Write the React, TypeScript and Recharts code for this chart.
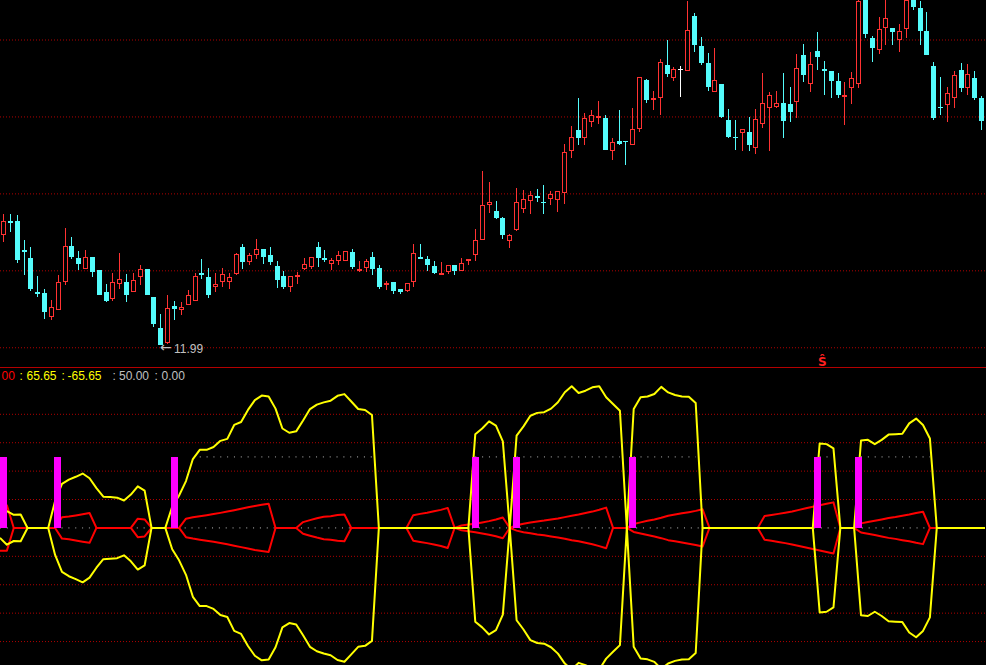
import React from 'react';
import { ComposedChart, Bar, Line, XAxis, YAxis, ReferenceLine } from 'recharts';

// ---------- price panel data ----------
const OPEN = [
  13.41, 13.60, 13.60, 13.22, 13.12, 12.67, 12.66, 12.35, 12.44, 12.81,
  13.27, 13.12, 12.97, 13.13, 12.96, 12.67, 12.59, 12.78, 12.80, 12.67,
  12.87, 12.97, 12.61, 12.21, 12.01, 12.49, 12.44, 12.51, 12.56, 12.92,
  12.87, 12.74, 12.80, 12.81, 12.91, 13.26, 13.06, 13.15, 13.23, 13.16,
  13.01, 12.88, 12.74, 12.87, 12.98, 13.00, 13.26, 13.12, 13.04, 13.08,
  13.08, 13.19, 12.95, 12.99, 13.13, 12.99, 12.76, 12.80, 12.71, 12.69,
  12.81, 13.13, 13.10, 13.01, 12.89, 12.93, 13.03, 12.95, 13.09, 13.15,
  13.35, 13.80, 13.73, 13.64, 13.34, 13.48, 13.76, 13.86, 13.92, 13.85,
  13.89, 13.87, 13.96, 14.51, 14.78, 14.67, 14.88, 14.93, 14.94, 14.51,
  14.64, 14.64, 14.59, 14.79, 15.43, 15.18, 15.19, 15.63, 15.46, 15.57,
  15.55, 16.26, 15.87, 15.65, 15.28, 15.38, 14.91, 14.69, 14.74, 14.75,
  14.54, 14.86, 15.06, 15.08, 15.13, 15.12, 15.15, 15.76, 15.38, 15.81,
  15.57, 15.55, 15.42, 15.23, 15.33, 15.38, 16.47, 15.98, 15.82, 16.10,
  16.11, 15.95, 16.09, 16.47, 16.37, 16.07, 15.61, 15.08, 15.10, 15.20,
  15.56, 15.32, 15.46, 15.20,
];
const HIGH = [
  13.69, 13.69, 13.68, 13.35, 13.26, 12.88, 12.71, 12.57, 12.90, 13.51,
  13.39, 13.21, 13.22, 13.13, 12.96, 12.78, 12.92, 13.18, 12.91, 12.92,
  13.03, 12.97, 12.61, 12.39, 12.64, 12.56, 12.54, 12.70, 12.92, 13.10,
  12.99, 12.92, 12.99, 12.92, 13.18, 13.30, 13.18, 13.36, 13.23, 13.26,
  13.08, 12.95, 12.88, 12.93, 13.12, 13.13, 13.32, 13.22, 13.12, 13.21,
  13.21, 13.23, 13.08, 13.10, 13.19, 13.03, 12.82, 12.80, 12.71, 12.79,
  13.30, 13.30, 13.14, 13.08, 13.06, 13.03, 13.03, 13.12, 13.10, 13.49,
  14.25, 14.10, 13.86, 13.65, 13.43, 14.03, 14.00, 13.99, 14.01, 14.07,
  13.99, 13.99, 14.60, 14.83, 15.20, 15.00, 15.04, 15.16, 14.97, 14.67,
  15.04, 14.64, 15.07, 15.47, 15.44, 15.29, 15.70, 15.95, 15.60, 15.61,
  16.46, 16.30, 15.99, 15.78, 15.85, 15.38, 15.05, 14.91, 14.79, 14.95,
  15.05, 15.52, 15.27, 15.29, 15.52, 15.34, 15.77, 15.90, 15.79, 16.05,
  15.68, 15.55, 15.52, 15.40, 15.53, 16.47, 16.47, 16.00, 16.25, 16.47,
  16.11, 16.16, 16.47, 16.47, 16.46, 16.31, 15.66, 15.47, 15.34, 15.55,
  15.65, 15.64, 15.55, 15.22,
];
const LOW = [
  13.33, 13.45, 13.05, 12.90, 12.69, 12.61, 12.33, 12.31, 12.44, 12.76,
  13.11, 12.96, 12.97, 12.87, 12.64, 12.55, 12.56, 12.72, 12.55, 12.67,
  12.76, 12.63, 12.22, 11.99, 12.00, 12.31, 12.37, 12.51, 12.56, 12.85,
  12.60, 12.68, 12.74, 12.72, 12.90, 12.98, 13.02, 13.10, 13.04, 13.02,
  12.73, 12.72, 12.67, 12.78, 12.96, 12.98, 13.00, 13.07, 12.96, 13.03,
  13.08, 12.98, 12.94, 12.94, 12.90, 12.72, 12.70, 12.65, 12.65, 12.67,
  12.74, 13.10, 12.95, 12.91, 12.89, 12.91, 12.89, 12.95, 13.03, 13.08,
  13.35, 13.70, 13.63, 13.37, 13.25, 13.47, 13.70, 13.69, 13.85, 13.69,
  13.80, 13.72, 13.82, 14.42, 14.59, 14.58, 14.82, 14.86, 14.52, 14.39,
  14.59, 14.33, 14.58, 14.75, 15.13, 15.04, 14.97, 15.47, 15.42, 15.21,
  15.55, 15.79, 15.63, 15.29, 15.27, 14.94, 14.67, 14.52, 14.51, 14.51,
  14.47, 14.80, 14.51, 15.06, 14.68, 14.88, 14.94, 15.41, 15.28, 15.56,
  15.23, 15.20, 15.20, 14.84, 15.12, 15.33, 15.97, 15.67, 15.77, 15.88,
  15.88, 15.80, 15.98, 16.34, 15.89, 15.76, 14.91, 14.98, 14.89, 15.07,
  15.28, 15.23, 15.17, 14.78,
];
const CLOSE = [
  13.60, 13.57, 13.09, 13.20, 12.72, 12.65, 12.42, 12.48, 12.81, 13.27,
  13.13, 13.04, 13.13, 12.94, 12.64, 12.56, 12.80, 12.84, 12.63, 12.83,
  12.97, 12.63, 12.26, 11.99, 12.47, 12.46, 12.48, 12.64, 12.88, 12.89,
  12.64, 12.78, 12.91, 12.87, 13.17, 13.07, 13.16, 13.23, 13.13, 13.06,
  12.83, 12.74, 12.88, 12.90, 13.04, 13.13, 13.12, 13.09, 13.09, 13.16,
  13.21, 13.00, 12.97, 13.08, 12.98, 12.74, 12.79, 12.69, 12.68, 12.79,
  13.18, 13.11, 13.02, 12.92, 12.92, 13.03, 12.95, 13.05, 13.10, 13.35,
  13.81, 13.84, 13.64, 13.42, 13.42, 13.84, 13.88, 13.94, 13.90, 13.84,
  13.95, 13.99, 14.49, 14.69, 14.67, 14.94, 14.98, 14.96, 14.52, 14.62,
  14.60, 14.62, 14.79, 15.47, 15.17, 15.19, 15.67, 15.51, 15.57, 15.57,
  16.08, 15.88, 15.65, 15.34, 15.43, 14.95, 14.69, 14.67, 14.79, 14.59,
  14.92, 15.13, 15.24, 15.13, 14.90, 15.02, 15.59, 15.50, 15.64, 15.73,
  15.55, 15.42, 15.24, 15.24, 15.46, 16.46, 16.03, 15.85, 16.09, 16.24,
  16.06, 16.07, 16.47, 16.38, 16.07, 15.76, 14.94, 15.06, 15.26, 15.50,
  15.33, 15.51, 15.20, 14.90,
];
const PRICE_GRID = [11.95, 12.95, 13.95, 14.95, 15.95];
const PRICE_DOMAIN = [11.70, 16.47];

// ---------- indicator panel data ----------
const ENVELOPE = [
  7, 11.8, 9.2, 9.4, 0, 0, 0, 0, 19, 31,
  34, 36, 38.3, 35, 28, 22, 21.7, 21.3, 19.3, 23.5,
  29.3, 26.3, 0, 0, 0, 15, 22.8, 33, 48.5, 55,
  55, 57, 61.3, 62.7, 72.5, 74.6, 83.1, 90, 93.2, 92.6,
  84, 70, 67, 68, 75.6, 83.7, 86.8, 88.4, 89.6, 93,
  94.2, 89, 83.7, 83, 79.5, 0, 0, 0, 0, 0,
  0, 0, 0, 0, 0, 0, 0, 0, 0, 66,
  70, 75, 72, 61, 0, 65, 71.5, 79, 81, 81.5,
  84, 88.5, 95.5, 99.7, 95, 96.6, 99, 99.7, 92, 87.2,
  82.5, 0, 83.7, 92, 92.5, 94.3, 99.3, 95.4, 93.6, 92.6,
  92.4, 88, 0, 0, 0, 0, 0, 0, 0, 0,
  0, 0, 0, 0, 0, 0, 0, 0, 0, 59.5,
  59, 56, 0, 0, 0, 61.5, 62, 59, 62, 65.7,
  66, 66.3, 73.6, 77, 72.5, 63, 0, 0, 0, 0,
  0, 0, 0, 0,
];
const INNER = [
  16, 16, 0, 0, 0, 0, 0, 0, 0, 7.5,
  8, 8.8, 9.7, 10.5, 0, 0, 0, 0, 0, 0,
  6.5, 6, 0, 0, 0, 0, 0, 6.5, 7.5, 8.3,
  9, 9.8, 10.6, 11.5, 12.5, 13.5, 14.5, 15.5, 16.3, 17,
  0, 0, 0, 0, 4.1, 5.5, 6.8, 7.9, 8.3, 9.1,
  9.4, 0, 0, 0, 0, 0, 0, 0, 0, 0,
  9, 9.9, 10.7, 11.7, 12.7, 14.1, 0, 1.7, 2.4, 3,
  3.9, 4.8, 5.9, 7.3, 0, 1.9, 3, 3.8, 4.6, 5.2,
  6, 6.7, 7.6, 8.6, 9.4, 10.5, 11.5, 12.8, 14.3, 0,
  0, 0, 2.8, 3.9, 5, 6, 7.2, 8.6, 9.4, 10.3,
  11.1, 12, 13.1, 0, 0, 0, 0, 0, 0, 0,
  0, 8.4, 9.1, 9.9, 10.7, 11.6, 12.7, 13.8, 14.9, 15.9,
  17, 18, 0, 0, 0, 3.2, 4.1, 5, 6, 7,
  7.7, 8.6, 9.4, 10.5, 11.4, 0, 0, 0, 0, 0,
  0, 0, 0, 0,
];
const SIGNAL_BARS = [0, 8, 25, 69, 75, 92, 119, 125];
const SIGNAL_LEVEL = 50;
const IND_GRID = [-80, -60, -40, -20, 20, 40, 60, 80];
const IND_DOMAIN = [-96.5, 113.3];

// ---------- layout / style ----------
const W = 985;
const TOP_H = 367;
const BOT_TOP = 367;
const BOT_H = 298;
const UP = '#ff3232';
const DOWN = '#54fcfc';
const FLAT = '#ffffff';
const GRID_RED = '#b00000';
const DOT_GREY = '#c0c0c0';
const M0 = { top: 0, right: 0, bottom: 0, left: 0 };

const candleData = OPEN.map((o, i) => ({ i, o, h: HIGH[i], l: LOW[i], c: CLOSE[i] }));
const indData = ENVELOPE.map((e, i) => ({
  i,
  up: e,
  dn: -e,
  r: INNER[i],
  nr: -INNER[i],
  z: 0,
  w: e >= SIGNAL_LEVEL ? SIGNAL_LEVEL : null,
  m: SIGNAL_BARS.includes(i) ? SIGNAL_LEVEL : null,
}));

function Candle(props: any) {
  const { x, y, width, height, payload } = props;
  if (x == null || y == null || !payload) return null;
  const { o, h, l, c } = payload;
  const top = Math.min(y, y + height);
  const bot = Math.max(y, y + height);
  const span = h - l;
  const py = (v: number) => (span > 0 ? top + ((h - v) / span) * (bot - top) : top);
  const cx = x + width / 2;
  const left = Math.round(cx - 2.5);
  const mid = left + 2.5;
  const yHi = Math.round(py(h));
  const yLo = Math.round(py(l));
  const bTop = Math.round(py(Math.max(o, c)));
  const bBot = Math.round(py(Math.min(o, c)));
  if (c > o) {
    const hgt = bBot - bTop;
    return (
      <g>
        {bTop > yHi && <line x1={mid} x2={mid} y1={yHi} y2={bTop} stroke={UP} strokeWidth={1} />}
        {yLo > bBot && <line x1={mid} x2={mid} y1={bBot} y2={yLo} stroke={UP} strokeWidth={1} />}
        {hgt >= 3 ? (
          <rect x={left + 0.5} y={bTop + 0.5} width={4} height={hgt - 1} fill="#000" stroke={UP} strokeWidth={1} />
        ) : (
          <rect x={left} y={bTop} width={5} height={Math.max(2, hgt)} fill={UP} />
        )}
      </g>
    );
  }
  const col = c < o ? DOWN : FLAT;
  return (
    <g>
      <line x1={mid} x2={mid} y1={yHi} y2={Math.max(yLo, yHi + 1)} stroke={col} strokeWidth={1} />
      <rect x={left} y={bTop} width={5} height={Math.max(1, bBot - bTop)} fill={col} />
    </g>
  );
}

function SignalBar(props: any) {
  const { x, y, width, height } = props;
  if (x == null || y == null || !height) return null;
  const cx = x + width / 2;
  const top = Math.min(y, y + height);
  return <rect x={Math.round(cx - 3.5)} y={Math.round(top)} width={7} height={Math.round(Math.abs(height))} fill="#ff00ff" />;
}

const abs = (top: number): React.CSSProperties => ({ position: 'absolute', left: 0, top });

export default function App() {
  return (
    <div style={{ position: 'fixed', left: 0, top: 0, width: 986, height: 665, background: '#000', overflow: 'hidden' }}>
      {/* price grid */}
      <div style={abs(0)}>
        <ComposedChart width={W} height={TOP_H} data={candleData} margin={M0}>
          <XAxis dataKey="i" hide />
          <YAxis type="number" domain={PRICE_DOMAIN} hide allowDataOverflow />
          {PRICE_GRID.map((v) => (
            <ReferenceLine key={v} y={v} stroke={GRID_RED} strokeDasharray="1 2" strokeWidth={1} />
          ))}
        </ComposedChart>
      </div>
      {/* candles */}
      <div style={abs(0)}>
        <ComposedChart width={W} height={TOP_H} data={candleData} margin={M0}>
          <XAxis dataKey="i" hide />
          <YAxis type="number" domain={PRICE_DOMAIN} hide allowDataOverflow />
          <Bar dataKey={(d: any) => [d.l, d.h]} barSize={5} isAnimationActive={false} shape={(p: any) => <Candle {...p} />} />
        </ComposedChart>
      </div>
      {/* indicator grid */}
      <div style={abs(BOT_TOP)}>
        <ComposedChart width={W} height={BOT_H} data={indData} margin={M0}>
          <XAxis dataKey="i" hide />
          <YAxis type="number" domain={IND_DOMAIN} hide allowDataOverflow />
          {IND_GRID.map((v) => (
            <ReferenceLine key={v} y={v} stroke={GRID_RED} strokeDasharray="1 2" strokeWidth={1} />
          ))}
        </ComposedChart>
      </div>
      {/* indicator lines */}
      <div style={abs(BOT_TOP)}>
        <ComposedChart width={W} height={BOT_H} data={indData} margin={M0}>
          <XAxis dataKey="i" hide />
          <YAxis type="number" domain={IND_DOMAIN} hide allowDataOverflow />
          <Line dataKey="z" type="linear" stroke={DOT_GREY} strokeWidth={1} strokeDasharray="1 5.84" dot={false} activeDot={false} isAnimationActive={false} />
          <Line dataKey="r" type="linear" stroke="#ff0000" strokeWidth={2} strokeLinejoin="round" dot={false} activeDot={false} isAnimationActive={false} />
          <Line dataKey="nr" type="linear" stroke="#ff0000" strokeWidth={2} strokeLinejoin="round" dot={false} activeDot={false} isAnimationActive={false} />
          <Line dataKey="up" type="linear" stroke="#ffff00" strokeWidth={2} strokeLinejoin="round" dot={false} activeDot={false} isAnimationActive={false} />
          <Line dataKey="dn" type="linear" stroke="#ffff00" strokeWidth={2} strokeLinejoin="round" dot={false} activeDot={false} isAnimationActive={false} />
          <Line dataKey="w" type="linear" stroke={DOT_GREY} strokeWidth={1} strokeDasharray="1 5.84" dot={false} activeDot={false} isAnimationActive={false} />
        </ComposedChart>
      </div>
      {/* signal bars */}
      <div style={abs(BOT_TOP)}>
        <ComposedChart width={W} height={BOT_H} data={indData} margin={M0}>
          <XAxis dataKey="i" hide />
          <YAxis type="number" domain={IND_DOMAIN} hide allowDataOverflow />
          <Bar dataKey="m" barSize={7} isAnimationActive={false} shape={(p: any) => <SignalBar {...p} />} />
        </ComposedChart>
      </div>
      {/* texts and separator */}
      <svg width={986} height={665} style={{ position: 'absolute', left: 0, top: 0, pointerEvents: 'none' }}>
        <line x1={0} x2={986} y1={367.5} y2={367.5} stroke="#b40000" strokeWidth={1} />
        <g fontFamily="'Liberation Sans', Arial, sans-serif" fontSize={12}>
          <text x={1.5} y={380} fill="#ff0000">00</text>
          <text x={19.5} y={380} fill="#ffff00">:</text>
          <text x={26.5} y={380} fill="#ffff00">65.65</text>
          <text x={61.5} y={380} fill="#ffff00">:</text>
          <text x={67.5} y={380} fill="#ffff00">-65.65</text>
          <text x={112.5} y={380} fill={DOT_GREY}>:</text>
          <text x={119} y={380} fill={DOT_GREY}>50.00</text>
          <text x={154.5} y={380} fill={DOT_GREY}>:</text>
          <text x={161.5} y={380} fill={DOT_GREY}>0.00</text>
          <text x={174} y={352.5} fill={DOT_GREY}>11.99</text>
        </g>
        <text x={160} y={352} fill={DOT_GREY} fontFamily="'DejaVu Sans', sans-serif" fontSize={14}>←</text>
        <text x={818} y={366} fill="#ff2020" fontFamily="'DejaVu Sans', sans-serif" fontSize={12} fontWeight="bold">Ŝ</text>
      </svg>
    </div>
  );
}
